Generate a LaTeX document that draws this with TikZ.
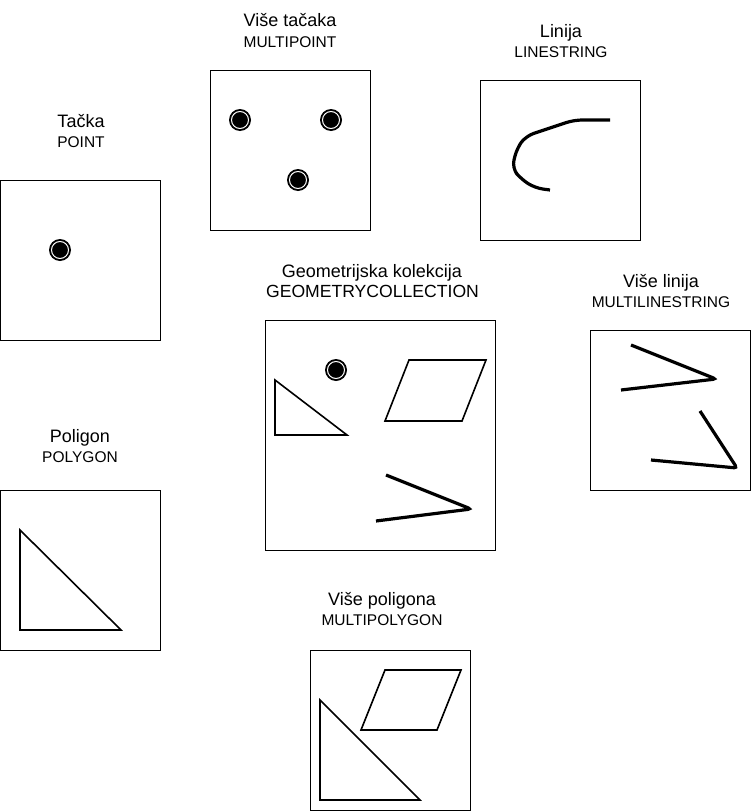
\documentclass[tikz,border=0pt]{standalone}
\usepackage{fontspec}
\setmainfont{Liberation Sans}
\usetikzlibrary{positioning}

\tikzset{
  frame/.style={draw, line width=1pt},
  title/.style={anchor=base, font=\fontsize{18}{20}\selectfont},
  subtitle/.style={anchor=base, font=\fontsize{15.5}{17}\selectfont},
  outline/.style={draw, line width=1.6pt, line join=miter},
  wire/.style={draw, line width=3.2pt, rounded corners=3pt},
}
% point marker: black disc with a thin white ring
\newcommand{\geopoint}[1]{%
  \fill (#1) circle (11);
  \draw[white, line width=1pt] (#1) circle (8.5);
}

\begin{document}
\begin{tikzpicture}[x=1pt, y=-1pt]
    \useasboundingbox (0,0) rectangle (751,811);

    % POINT
    \node[title] (pt-t) at (81,127) {Tačka};
    \node[subtitle] (pt-s) at (81,147) {POINT};
    \draw[frame] (0.5,180.5) rectangle (160.5,340.5);
    \geopoint{60,250}

    % MULTIPOINT
    \node[title] (mpt-t) at (290,27) {Više tačaka};
    \node[subtitle] (mpt-s) at (290,47) {MULTIPOINT};
    \draw[frame] (210.5,70.5) rectangle (370.5,230.5);
    \geopoint{240,120}
    \geopoint{331,120}
    \geopoint{298,180}

    % LINESTRING
    \node[title] (ls-t) at (561,37) {Linija};
    \node[subtitle] (ls-s) at (561,57) {LINESTRING};
    \draw[frame] (480.5,80.5) rectangle (640.5,240.5);
    \draw[wire, rounded corners=8pt] (550,190) -- (535,188) -- (521,179) -- (512,168)
        -- (517,148) -- (526,136) -- (574,120) -- (610,120);

    % GEOMETRYCOLLECTION
    \node[title] (gc-t) at (372,277) {Geometrijska kolekcija};
    \node[subtitle, font=\fontsize{17.6}{19}\selectfont] (gc-s) at (372.5,297) {GEOMETRYCOLLECTION};
    \draw[frame] (265.5,320.5) rectangle (495.5,550.5);
    \geopoint{336,370}
    \draw[outline] (275,380) -- (275,435) -- (347,435) -- cycle;
    \draw[outline] (409,360) -- (486,360) -- (462,421) -- (385,421) -- cycle;
    \draw[wire] (386,475) -- (471,509) -- (376,521);

    % MULTILINESTRING
    \node[title] (mls-t) at (661,287) {Više linija};
    \node[subtitle] (mls-s) at (661,307) {MULTILINESTRING};
    \draw[frame] (590.5,330.5) rectangle (750.5,490.5);
    \draw[wire] (631,345) -- (716,379) -- (621,390);
    \draw[wire] (700,411) -- (737,468) -- (651,460);

    % POLYGON
    \node[title] (pg-t) at (80,442) {Poligon};
    \node[subtitle] (pg-s) at (80,462) {POLYGON};
    \draw[frame] (0.5,490.5) rectangle (160.5,650.5);
    \draw[outline] (20,530) -- (20,630) -- (121,630) -- cycle;

    % MULTIPOLYGON
    \node[title] (mpg-t) at (382,605) {Više poligona};
    \node[subtitle] (mpg-s) at (382,625) {MULTIPOLYGON};
    \draw[frame] (310.5,650.5) rectangle (470.5,810.5);
    \draw[outline] (320,700) -- (320,800) -- (420,800) -- cycle;
    \draw[outline] (385,670) -- (461,670) -- (437,730) -- (361,730) -- cycle;
\end{tikzpicture}
\end{document}
